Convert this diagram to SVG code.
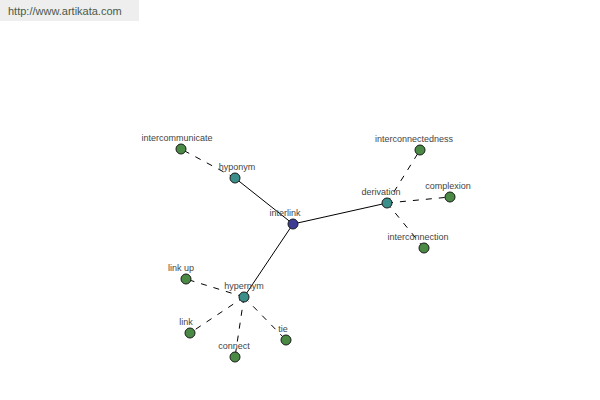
<svg xmlns="http://www.w3.org/2000/svg" width="600" height="400" viewBox="0 0 600 400">
<style>
.bg{fill:#ffffff}
.hdr{fill:#eeeeee}
.hdrt{font-family:"Liberation Sans",Arial,sans-serif;font-size:11px;fill:#4a5a4a}
.lbl{font-family:"Liberation Sans",Arial,sans-serif;font-size:9px;fill:#444444;text-anchor:middle}
.solid{stroke:#000000;stroke-width:1;fill:none}
.dash{stroke:#000000;stroke-width:1;fill:none;stroke-dasharray:6,7}
.n circle{stroke:#1a1a1a;stroke-width:1}
.root circle{fill:#3c3c96}
.mid circle{fill:#3a8f8a}
.leaf circle{fill:#4a8a45}
</style>
<rect class="bg" x="0" y="0" width="600" height="400"/>
<rect class="hdr" x="0" y="0" width="139" height="21"/>
<text class="hdrt" x="8" y="15">http://www.artikata.com</text>
<g id="connectors">
<line class="solid" x1="293" y1="224" x2="235" y2="178"/>
<line class="solid" x1="293" y1="224" x2="387" y2="203"/>
<line class="solid" x1="293" y1="224" x2="244" y2="297"/>
<line class="dash" x1="235" y1="178" x2="181" y2="149"/>
<line class="dash" x1="387" y1="203" x2="420" y2="150"/>
<line class="dash" x1="387" y1="203" x2="450" y2="197"/>
<line class="dash" x1="387" y1="203" x2="424" y2="248"/>
<line class="dash" x1="244" y1="297" x2="186" y2="279"/>
<line class="dash" x1="244" y1="297" x2="190" y2="333"/>
<line class="dash" x1="244" y1="297" x2="235" y2="357"/>
<line class="dash" x1="244" y1="297" x2="286" y2="340"/>
</g>
<g id="interlink" class="n root"><circle cx="293" cy="224" r="5"/><text class="lbl" x="285" y="216">interlink</text></g>
<g id="hyponym" class="n mid"><circle cx="235" cy="178" r="5"/><text class="lbl" x="237" y="170">hyponym</text></g>
<g id="intercommunicate" class="n leaf"><circle cx="181" cy="149" r="5"/><text class="lbl" x="177" y="141">intercommunicate</text></g>
<g id="derivation" class="n mid"><circle cx="387" cy="203" r="5"/><text class="lbl" x="381" y="195">derivation</text></g>
<g id="interconnectedness" class="n leaf"><circle cx="420" cy="150" r="5"/><text class="lbl" x="414" y="142">interconnectedness</text></g>
<g id="complexion" class="n leaf"><circle cx="450" cy="197" r="5"/><text class="lbl" x="448" y="189">complexion</text></g>
<g id="interconnection" class="n leaf"><circle cx="424" cy="248" r="5"/><text class="lbl" x="418" y="240">interconnection</text></g>
<g id="hypernym" class="n mid"><circle cx="244" cy="297" r="5"/><text class="lbl" x="244" y="289">hypernym</text></g>
<g id="link_up" class="n leaf"><circle cx="186" cy="279" r="5"/><text class="lbl" x="181" y="271">link up</text></g>
<g id="link" class="n leaf"><circle cx="190" cy="333" r="5"/><text class="lbl" x="186" y="325">link</text></g>
<g id="connect" class="n leaf"><circle cx="235" cy="357" r="5"/><text class="lbl" x="234" y="349">connect</text></g>
<g id="tie" class="n leaf"><circle cx="286" cy="340" r="5"/><text class="lbl" x="283" y="332">tie</text></g>
</svg>
